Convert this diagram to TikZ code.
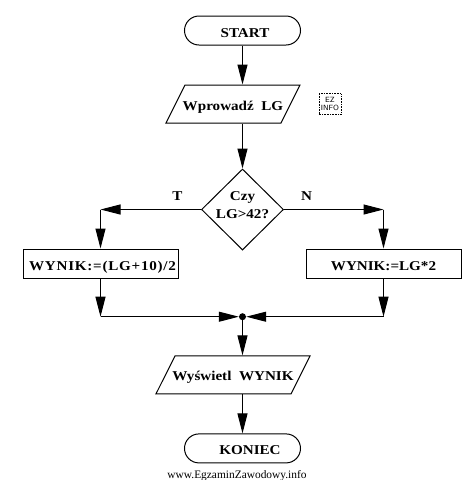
\documentclass[tikz,border=0pt]{standalone}
\usepackage{fontspec}
\setmainfont{Liberation Serif}
\newfontfamily\boxfont[FakeStretch=1.12,WordSpace=2]{Liberation Serif Bold}
\usetikzlibrary{
  shapes.geometric,
  arrows.meta,
  positioning,
  calc
}

\begin{document}
\begin{tikzpicture}[
    x=1pt, y=1pt,
    every node/.style={font=\boxfont\fontsize{13.5}{18}\selectfont},
    termbox/.style={rectangle, draw=black, line width=1pt, rounded corners=14.5pt,
                 minimum width=116pt, minimum height=29pt, inner sep=0pt,
                 text height=14pt, text depth=1pt},
    iobox/.style={trapezium, draw=black, line width=1pt, trapezium left angle=63.4,
                 trapezium right angle=116.6, inner sep=0pt,
                 text height=25pt, text depth=13pt},
    calcbox/.style={rectangle, draw=black, line width=1pt,
                 minimum width=155pt, minimum height=29pt, inner sep=0pt,
                 text height=14pt, text depth=1pt},
    decbox/.style={diamond, draw=black, line width=1pt, minimum width=82pt,
                 minimum height=81pt, inner sep=0pt},
    joindot/.style={circle, fill=black, minimum size=7pt, inner sep=0pt},
    myarrow/.style={-{Triangle[length=20pt, width=10pt]}, line width=1pt, black},
    plainnote/.style={font=\rmfamily\fontsize{11.4}{12}\selectfont, inner sep=0pt},
]
\useasboundingbox (0,0) rectangle (475,-480);

\node[termbox] (start) at (242.5,-30.5) {\hspace*{5pt}START};
\node[iobox, below=39pt of start, xshift=-9.5pt] (input) {\makebox[96pt]{Wprowadź LG}};
\node[decbox, below=45pt of input, xshift=9.5pt] (dec) {};
\node[align=center, inner sep=0pt, yshift=4pt] (dectext) at (dec.center) {Czy\\LG>42?};
\node[calcbox, below left=39pt and 22.5pt of dec.west] (left)
    {\hspace*{4pt}\addfontfeature{LetterSpace=5.5}WYNIK:=(LG+10)/2};
\node[calcbox, below right=39pt and 21.5pt of dec.east] (right) {WYNIK:=LG*2};
\node[joindot, below=62.5pt of dec] (join) {};
\node[iobox, below=35pt of join, xshift=-9.5pt] (output) {\makebox[116pt]{Wyświetl WYNIK}};
\node[termbox, below=39pt of output, xshift=9.5pt] (koniec) {\hspace*{15pt}KONIEC};

% Branch corners
\coordinate (tl) at (left |- dec.west);
\coordinate (tr) at (right |- dec.east);
\coordinate (bl) at (left |- join);
\coordinate (br) at (right |- join);

\draw[myarrow] (start.south) -- (start.south |- input.north);
\draw[myarrow] (start.south |- input.south) -- (dec.north);
\draw[myarrow] (dec.west) -- (tl);
\draw[myarrow] (dec.east) -- (tr);
\draw[myarrow] (tl) -- (left.north);
\draw[myarrow] (tr) -- (right.north);
\draw[myarrow] (left.south) -- (bl);
\draw[myarrow] (right.south) -- (br);
\draw[myarrow] (bl) -- (join.west);
\draw[myarrow] (br) -- (join.east);
\draw[myarrow] (join.south) -- (join.south |- output.north);
\draw[myarrow] (join.south |- output.south) -- (koniec.north);

% Branch labels
\node[above=5pt of tl, xshift=77pt] (tlabel) {T};
\node[above=5pt of tr, xshift=-77pt] (nlabel) {N};

% Small mark and footer
\node[draw=black, densely dotted, line width=0.6pt, align=center, inner sep=0pt,
      minimum width=22pt, minimum height=21pt,
      font=\sffamily\fontsize{7.5}{8.5}\selectfont,
      right=27.5pt of input.east] (mark) {EZ\\INFO};
\node[plainnote, below=7pt of koniec, xshift=-5.5pt] (footer) {www.EgzaminZawodowy.info};

\end{tikzpicture}
\end{document}
